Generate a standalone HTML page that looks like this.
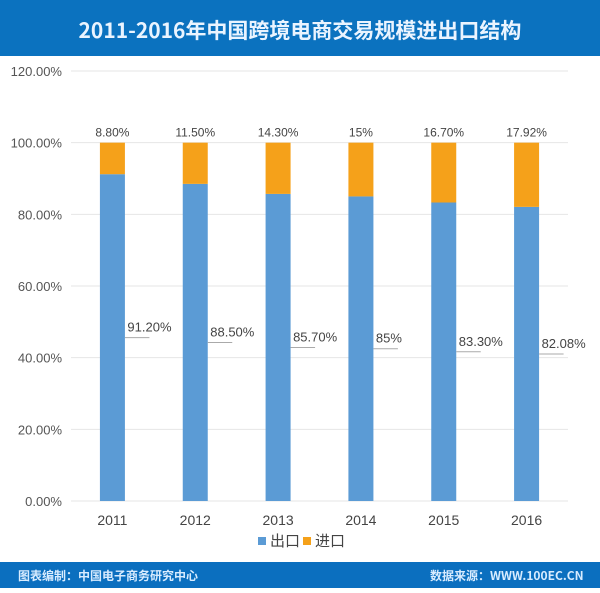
<!DOCTYPE html>
<html><head><meta charset="utf-8"><style>
body{margin:0;width:600px;height:588px;overflow:hidden;background:#fff;font-family:"Liberation Sans","Noto Sans CJK SC",sans-serif;}
</style></head><body>
<svg width="600" height="588" xmlns="http://www.w3.org/2000/svg" font-family="Liberation Sans, Noto Sans CJK SC, sans-serif">
<rect x="0" y="0" width="600" height="56" fill="#0b72bf"/>
<text x="300" y="38" text-anchor="middle" font-size="21" font-weight="bold" fill="#eaf4ff" font-family="Noto Sans CJK SC, sans-serif">2011-2016年中国跨境电商交易规模进出口结构</text>
<g id="grid"></g><g id="bars"></g><g id="labels"></g>
<g>
<rect x="258" y="537" width="8" height="8" fill="#5b9bd5"/>
<text x="270" y="546" font-size="15" fill="#444" font-family="Noto Sans CJK SC, sans-serif">出口</text>
<rect x="303" y="537" width="8" height="8" fill="#f5a11a"/>
<text x="315" y="546" font-size="15" fill="#444" font-family="Noto Sans CJK SC, sans-serif">进口</text>
</g>
<rect x="0" y="562" width="600" height="26" fill="#0b6fbf"/>
<text x="18" y="580" font-size="12" font-weight="bold" fill="#d8ecff" font-family="Noto Sans CJK SC, sans-serif">图表编制：中国电子商务研究中心</text>
<text x="430" y="580" font-size="12" font-weight="bold" fill="#d8ecff" font-family="Noto Sans CJK SC, sans-serif">数据来源：WWW.100EC.CN</text>
</svg>
<script>
const years=["2011","2012","2013","2014","2015","2016"];
const exportVals=[91.2,88.5,85.7,85,83.3,82.08];
const importVals=[8.8,11.5,14.3,15,16.7,17.92];
const exportLabels=["91.20%","88.50%","85.70%","85%","83.30%","82.08%"];
const importLabels=["8.80%","11.50%","14.30%","15%","16.70%","17.92%"];
const yTicks=[0,20,40,60,80,100,120];
const yTickLabels=["0.00%","20.00%","40.00%","60.00%","80.00%","100.00%","120.00%"];
const NS="http://www.w3.org/2000/svg";
const x0=71,x1=568,y0=501,y1=71;
const y=v=>y0-(v/120)*(y0-y1);
const bw=(x1-x0)/years.length;
const xc=i=>x0+bw*(i+0.5);
function mk(t,a,p){const e=document.createElementNS(NS,t);for(const k in a)e.setAttribute(k,a[k]);p.appendChild(e);return e;}
const G=document.getElementById('grid'),B=document.getElementById('bars'),L=document.getElementById('labels');
yTicks.forEach((v,i)=>{
 const l=mk('line',{x1:x0,x2:x1,y1:y(v),y2:y(v),stroke:'#e6e6e6','stroke-width':1},G);
 
 
 const t=mk('text',{x:62,y:y(v)+5,'text-anchor':'end','font-size':13,fill:'#555'},G);t.textContent=yTickLabels[i];
 
 
});
years.forEach((yr,i)=>{
 const c=xc(i),w=25;
 const e=mk('rect',{x:c-w/2,y:y(exportVals[i]),width:w,height:y0-y(exportVals[i]),fill:'#5b9bd5'},B);
 
 
 const im=mk('rect',{x:c-w/2,y:y(exportVals[i]+importVals[i]),width:w,height:y(exportVals[i])-y(exportVals[i]+importVals[i]),fill:'#f5a11a'},B);
 
 
 const t=mk('text',{x:c,y:y(exportVals[i]+importVals[i])-6,'text-anchor':'middle','font-size':12,fill:'#444'},L);t.textContent=importLabels[i];
 
 
 const ly=y(exportVals[i]/2);
 const ln=mk('line',{x1:c+w/2,x2:c+37,y1:ly,y2:ly,stroke:'#aaa','stroke-width':1},L);
 
 
 const t2=mk('text',{x:c+15,y:ly-6,'font-size':13,fill:'#444'},L);t2.textContent=exportLabels[i];
 
 
 const xt=mk('text',{x:c,y:525,'text-anchor':'middle','font-size':14,fill:'#444'},L);xt.textContent=yr;
 
 
});
</script>
</body></html>
